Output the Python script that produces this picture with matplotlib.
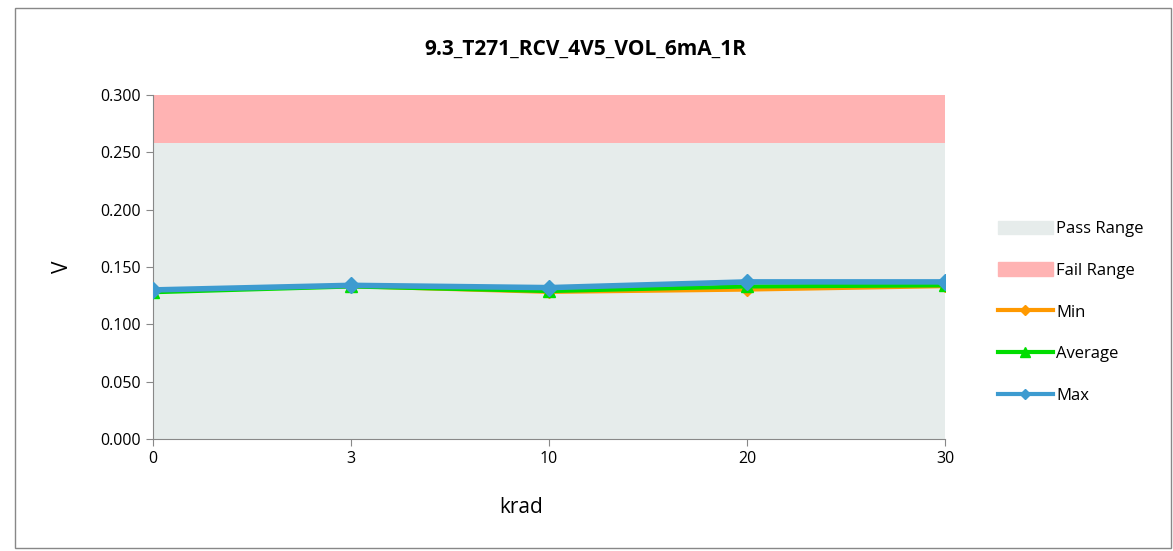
import matplotlib.pyplot as plt
from matplotlib.patches import Patch
from matplotlib.lines import Line2D
import numpy as np

categories = ['0', '3', '10', '20', '30']
pass_limit = [0.258, 0.258, 0.258, 0.258, 0.258]
fail_top = [0.300, 0.300, 0.300, 0.300, 0.300]
v_min = [0.129, 0.133, 0.128, 0.130, 0.133]
v_avg = [0.128, 0.133, 0.129, 0.133, 0.134]
v_max = [0.130, 0.134, 0.132, 0.137, 0.137]

plt.rcParams['font.family'] = ['Open Sans', 'DejaVu Sans']

fig = plt.figure(figsize=(11.73, 5.51), dpi=100)
ax = fig.add_axes([0.1304, 0.2033, 0.6752, 0.6243])

x = np.arange(len(categories))
ax.fill_between(x, 0, pass_limit, color='#e6eceb', lw=0)
ax.fill_between(x, pass_limit, fail_top, color='#ffb3b3', lw=0)

ax.plot(x, v_min, color='#ff9900', lw=2.5, marker='D', ms=6, zorder=3)
ax.plot(x, v_avg, color='#00dd00', lw=3, marker='^', ms=9, zorder=4)
ax.plot(x, v_max, color='#3d9bd0', lw=4, marker='D', ms=8, zorder=5)

ax.set_xlim(0, len(categories) - 1)
ax.set_ylim(0, 0.3)
ax.set_xticks(x)
ax.set_xticklabels(categories, fontsize=11.5)
ax.set_yticks(np.arange(0, 0.301, 0.05))
ax.set_yticklabels(['%.3f' % v for v in np.arange(0, 0.301, 0.05)], fontsize=11.5)
ax.tick_params(direction='out', length=5, color='#888888')
for s in ['top', 'right']:
    ax.spines[s].set_visible(False)
ax.spines['left'].set_color('#888888')
ax.spines['bottom'].set_color('#888888')

ax.set_xlabel('krad', fontsize=15)
ax.set_ylabel('V', fontsize=15, labelpad=20)
ax.xaxis.set_label_coords(0.465, -0.17)
fig.text(0.499, 0.9, '9.3_T271_RCV_4V5_VOL_6mA_1R', ha='center', fontsize=15, fontweight='bold')

handles = [
    Patch(color='#e6eceb', label='Pass Range'),
    Patch(color='#ffb3b3', label='Fail Range'),
    Line2D([], [], color='#ff9900', lw=3, marker='D', ms=5, label='Min'),
    Line2D([], [], color='#00dd00', lw=3, marker='^', ms=7, label='Average'),
    Line2D([], [], color='#3d9bd0', lw=3, marker='D', ms=5, label='Max'),
]
fig.legend(handles=handles, loc='upper left', bbox_to_anchor=(0.838, 0.627),
           frameon=False, fontsize=12, labelspacing=1.5, handlelength=3.3,
           handletextpad=0.2, handleheight=0.9)

border = plt.Rectangle((0.013, 0.005), 0.985, 0.98, transform=fig.transFigure,
                       fill=False, edgecolor='#888888', lw=1)
fig.patches.append(border)

fig.savefig('out.png', dpi=100)
